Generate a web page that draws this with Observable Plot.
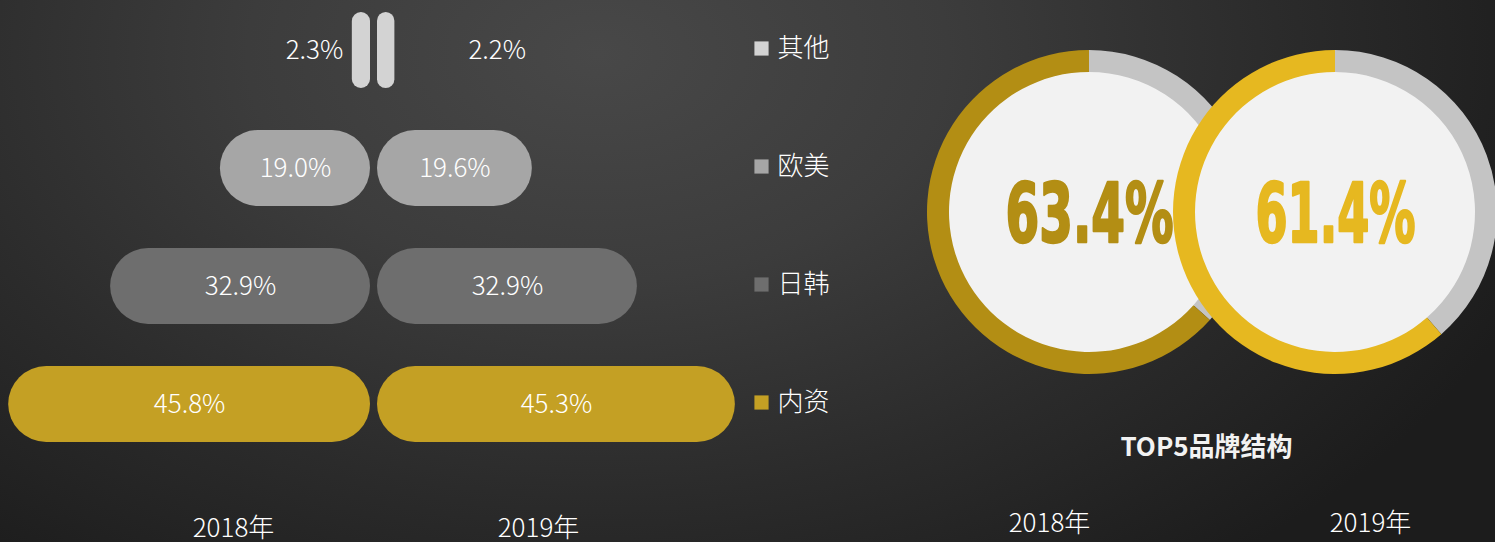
<!DOCTYPE html>
<html><head><meta charset="utf-8">
<script src="https://cdn.jsdelivr.net/npm/d3@7"></script>
<script src="https://cdn.jsdelivr.net/npm/@observablehq/plot@0.6"></script>
<style>
html,body{margin:0;padding:0;width:1495px;height:542px;overflow:hidden;}
body{background: radial-gradient(ellipse 1000px 650px at 40% 10%, #484848 0%, #3c3c3c 35%, #2b2b2b 68%, #1c1c1c 100%); font-family:"Noto Sans CJK SC", sans-serif;}
#wrap{display:flex;}
</style></head><body><div id="wrap"></div>
<script>
// ---- data ----
const categories = ["其他", "欧美", "日韩", "内资"];
const share2018 = [2.3, 19.0, 32.9, 45.8];
const share2019 = [2.2, 19.6, 32.9, 45.3];
const catColors = ["#d3d3d3", "#a6a6a6", "#6e6e6e", "#c4a024"];
const years = ["2018年", "2019年"];
const top5Share = [63.4, 61.4];
const donutColors = ["#b38e14", "#e6b820"];
const donutTitle = "TOP5品牌结构";

const fmt = v => d3.format(".1f")(v) + "%";
const rows2018 = categories.map((c, i) => ({cat: c, v: share2018[i], color: catColors[i]}));
const rows2019 = categories.map((c, i) => ({cat: c, v: share2019[i], color: catColors[i]}));
const donuts = years.map((y, i) => ({year: y, v: top5Share[i], color: donutColors[i]}));

const font = "'Noto Sans CJK SC', sans-serif";
const K = 7.9, C = 373.5, WL = 880, WR = 615, H = 542;

const left = Plot.plot({
  width: WL, height: H, margin: 0,
  style: {background: "transparent", fontFamily: font, overflow: "visible"},
  x: {domain: [-C / K, (WL - C) / K], range: [0, WL], axis: null},
  y: {type: "band", domain: categories, range: [10, 443], paddingInner: 0.36, paddingOuter: 0, axis: null},
  color: {type: "identity"},
  marks: [
    Plot.barX(rows2018, {x1: 0, x2: d => -d.v, y: "cat", fill: "color", dx: -3.5}),
    Plot.barX(rows2019, {x1: 0, x2: d => d.v, y: "cat", fill: "color", dx: 3.5}),
    Plot.text(rows2018.filter(d => d.v > 5), {x: d => -d.v / 2, y: "cat", text: d => fmt(d.v), dx: -3.5, fill: "#ffffff", fontSize: 26, fontWeight: 300}),
    Plot.text(rows2019.filter(d => d.v > 5), {x: d => d.v / 2, y: "cat", text: d => fmt(d.v), dx: 3.5, fill: "#ffffff", fontSize: 26, fontWeight: 300}),
    Plot.text(rows2018.filter(d => d.v <= 5), {x: d => -d.v, y: "cat", text: d => fmt(d.v), dx: -12.5, textAnchor: "end", fill: "#ffffff", fontSize: 26, fontWeight: 300}),
    Plot.text(rows2019.filter(d => d.v <= 5), {x: d => d.v, y: "cat", text: d => fmt(d.v), dx: 77, textAnchor: "start", fill: "#ffffff", fontSize: 26, fontWeight: 300}),
    // legend
    Plot.dot(rows2018, {y: "cat", frameAnchor: "left", dx: 761, dy: -2, symbol: "square", r: 8, fill: "color"}),
    Plot.text(rows2018, {y: "cat", frameAnchor: "left", dx: 777, dy: -2, text: "cat", textAnchor: "start", fill: "#ffffff", fontSize: 26, fontWeight: 300}),
    // year labels
    Plot.text([years[0]], {frameAnchor: "bottom", dx: 233 - WL / 2, dy: -14, lineAnchor: "middle", fill: "#ffffff", fontSize: 26, fontWeight: 300}),
    Plot.text([years[1]], {frameAnchor: "bottom", dx: 538 - WL / 2, dy: -14, lineAnchor: "middle", fill: "#ffffff", fontSize: 26, fontWeight: 300})
  ]
});

d3.select(left).selectAll('g[aria-label="bar"] rect').each(function () {
  const w = +this.getAttribute("width"), h = +this.getAttribute("height");
  const r = Math.min(w, h) / 2;
  this.setAttribute("rx", r); this.setAttribute("ry", r);
});

const donutMark = (index, scales) => {
  const g = d3.create("svg:g");
  donuts.forEach(d => {
    const cx = scales.x(d.year), cy = 212;
    const gg = g.append("g").attr("transform", `translate(${cx},${cy})`);
    gg.append("circle").attr("r", 141).attr("fill", "#f2f2f2");
    const pie = d3.pie().sort(null)([100 - d.v, d.v]);
    const arc = d3.arc().innerRadius(140).outerRadius(162);
    gg.selectAll("path").data(pie).join("path")
      .attr("d", arc)
      .attr("fill", (p, i) => i === 0 ? "#c4c4c4" : d.color);
  });
  return g.node();
};

const right = Plot.plot({
  width: WR, height: H, margin: 0,
  style: {background: "transparent", fontFamily: font, overflow: "visible"},
  x: {type: "point", domain: years, range: [1088.6 - WL, 1335 - WL], padding: 0, axis: null},
  color: {type: "identity"},
  marks: [
    donutMark,
    Plot.text(donuts, {x: "year", frameAnchor: "top", dy: 215, lineAnchor: "middle", text: d => fmt(d.v), fill: "color",
      stroke: "color", strokeWidth: 2.5,
      fontSize: 82, fontWeight: "bold", fontFamily: "'DejaVu Sans Condensed', 'DejaVu Sans', sans-serif"}),
    Plot.text([donutTitle], {frameAnchor: "top-left", dx: 1206 - WL, dy: 447, lineAnchor: "middle", textAnchor: "middle",
      fill: "#f2f2f2", fontSize: 26, fontWeight: "bold"}),
    Plot.text([years[0]], {frameAnchor: "top-left", dx: 1049 - WL, dy: 523, lineAnchor: "middle", textAnchor: "middle", fill: "#ffffff", fontSize: 26, fontWeight: 300}),
    Plot.text([years[1]], {frameAnchor: "top-left", dx: 1370 - WL, dy: 523, lineAnchor: "middle", textAnchor: "middle", fill: "#ffffff", fontSize: 26, fontWeight: 300})
  ]
});

// squeeze the big percentages into a tall condensed look
const pctWidths = {"63.4%": 168, "61.4%": 160};
d3.select(right).selectAll("text").each(function () {
  const t = this.textContent;
  if (pctWidths[t] !== undefined) {
    this.setAttribute("textLength", pctWidths[t]);
    this.setAttribute("lengthAdjust", "spacingAndGlyphs");
  }
});

document.getElementById("wrap").append(left, right);
</script>
</body></html>
